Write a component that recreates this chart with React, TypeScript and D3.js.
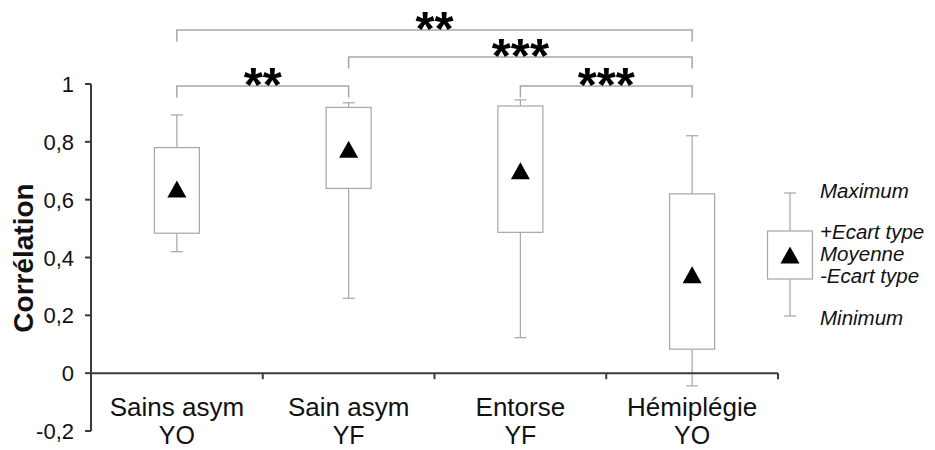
import React from "react";
import * as d3 from "d3";

const catLine1 = ["Sains asym", "Sain asym", "Entorse", "Hémiplégie"];
const catLine2 = ["YO", "YF", "YF", "YO"];
const maxVals = [0.893, 0.935, 0.945, 0.821];
const upperSD = [0.78, 0.919, 0.924, 0.62];
const means = [0.637, 0.774, 0.7, 0.34];
const lowerSD = [0.484, 0.639, 0.487, 0.083];
const minVals = [0.42, 0.259, 0.123, -0.044];
const yTicks = [-0.2, 0, 0.2, 0.4, 0.6, 0.8, 1];
const sigFrom = [0, 1, 0, 2];
const sigTo = [3, 3, 1, 3];
const sigLevel = [0, 1, 2, 2];
const sigStars = ["**", "***", "**", "***"];
const legendLabels = ["Maximum", "+Ecart type", "Moyenne", "-Ecart type", "Minimum"];

const W = 935;
const H = 450;
const BOX_STROKE = "#a6a6a6";
const AXIS = "#3a3a3a";
const FONT = "'Liberation Sans', Arial, sans-serif";

export default function App() {
  const y = d3.scaleLinear().domain([-0.2, 1]).range([431, 84]);
  const x = d3.scaleBand<number>().domain([0, 1, 2, 3]).range([91, 778]).padding(0);
  const cx = (i: number) => (x(i) as number) + x.bandwidth() / 2;
  const boxW = 45;
  const capW = 12;
  const tri = (px: number, py: number) =>
    `M${px - 9.5},${py + 8.5}L${px + 9.5},${py + 8.5}L${px},${py - 8.5}Z`;
  const levelY = [30, 57, 86];
  const fmt = (v: number) =>
    v === 0 ? "0" : v === 1 ? "1" : d3.format(".1f")(v).replace("\u2212", "-").replace(".", ",");

  // legend geometry
  const lgX = 790;
  const lgTop = 231, lgBot = 279, lgMax = 193, lgMin = 316, lgMean = 255;
  const lgTextY = [198, 239, 261, 283, 325];

  return (
    <svg width={W} height={H} style={{ position: "absolute", left: 0, top: 0, background: "#fff" }} fontFamily={FONT}>
      {/* boxes */}
      {catLine1.map((_, i) => {
        const c = cx(i);
        return (
          <g key={i}>
            <line x1={c} x2={c} y1={y(maxVals[i])} y2={y(upperSD[i])} stroke={BOX_STROKE} strokeWidth={1.2} />
            <line x1={c} x2={c} y1={y(lowerSD[i])} y2={y(minVals[i])} stroke={BOX_STROKE} strokeWidth={1.2} />
            <line x1={c - capW / 2} x2={c + capW / 2} y1={y(maxVals[i])} y2={y(maxVals[i])} stroke={BOX_STROKE} strokeWidth={1.2} />
            <line x1={c - capW / 2} x2={c + capW / 2} y1={y(minVals[i])} y2={y(minVals[i])} stroke={BOX_STROKE} strokeWidth={1.2} />
            <rect x={c - boxW / 2} y={y(upperSD[i])} width={boxW} height={y(lowerSD[i]) - y(upperSD[i])} fill="#fff" stroke={BOX_STROKE} strokeWidth={1.2} />
            <path d={tri(c, y(means[i]))} fill="#000" />
          </g>
        );
      })}

      {/* y axis */}
      <line x1={91} x2={91} y1={y(1)} y2={y(-0.2)} stroke={AXIS} strokeWidth={2} />
      {yTicks.map((t) => (
        <g key={t}>
          <line x1={85} x2={91} y1={y(t)} y2={y(t)} stroke={AXIS} strokeWidth={2} />
          <text x={74} y={y(t) + 8} textAnchor="end" fontSize={22} fill="#111">{fmt(t)}</text>
        </g>
      ))}
      {/* x axis */}
      <line x1={91} x2={778} y1={y(0)} y2={y(0)} stroke={AXIS} strokeWidth={2} />
      {[1, 2, 3, 4].map((k) => {
        const xx = k < 4 ? (x(k) as number) : 778;
        return <line key={k} x1={xx} x2={xx} y1={y(0)} y2={y(0) + 6} stroke={AXIS} strokeWidth={2} />;
      })}
      {catLine1.map((c, i) => (
        <g key={c}>
          <text x={cx(i)} y={416} textAnchor="middle" fontSize={26} fill="#111">{c}</text>
          <text x={cx(i)} y={444} textAnchor="middle" fontSize={25} fill="#111">{catLine2[i]}</text>
        </g>
      ))}
      <text transform="translate(33,258) rotate(-90)" textAnchor="middle" fontSize={28} fontWeight="bold" fill="#111">Corrélation</text>

      {/* significance brackets */}
      {sigFrom.map((f, k) => {
        const x1 = cx(f), x2 = cx(sigTo[k]);
        const ly = levelY[sigLevel[k]];
        return (
          <g key={k}>
            <path d={`M${x1},${ly + 11.5}V${ly}H${x2}V${ly + 11.5}`} fill="none" stroke={BOX_STROKE} strokeWidth={1.5} />
            <text x={(x1 + x2) / 2} y={ly + 15} textAnchor="middle" fontSize={49} fontWeight="bold" fill="#000">{sigStars[k]}</text>
          </g>
        );
      })}

      {/* legend */}
      <line x1={lgX} x2={lgX} y1={lgMax} y2={lgMin} stroke={BOX_STROKE} strokeWidth={1.2} />
      <line x1={lgX - 6} x2={lgX + 6} y1={lgMax} y2={lgMax} stroke={BOX_STROKE} strokeWidth={1.2} />
      <line x1={lgX - 6} x2={lgX + 6} y1={lgMin} y2={lgMin} stroke={BOX_STROKE} strokeWidth={1.2} />
      <rect x={lgX - 22.5} y={lgTop} width={45} height={lgBot - lgTop} fill="#fff" stroke={BOX_STROKE} strokeWidth={1.2} />
      <path d={tri(lgX, lgMean)} fill="#000" />
      {legendLabels.map((t, i) => (
        <text key={t} x={820} y={lgTextY[i]} fontSize={20.5} fontStyle="italic" fill="#111">{t}</text>
      ))}
    </svg>
  );
}
